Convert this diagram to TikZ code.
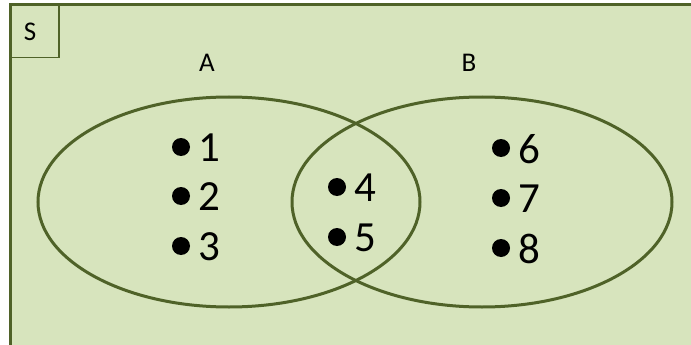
\documentclass[tikz,border=0pt]{standalone}
\usepackage{fontspec}
\setmainfont{Carlito}
\definecolor{setfill}{HTML}{D7E4BD}
\definecolor{olive}{HTML}{4F6228}
\begin{document}
\begin{tikzpicture}[x=1pt,y=-1pt,
  setline/.style={draw=olive,line width=3pt},
  dotmark/.style={circle,fill=black,inner sep=0pt,minimum size=18pt},
  num/.style={font=\fontsize{43}{46}\selectfont,inner sep=0pt,anchor=west},
  lbl/.style={font=\fontsize{27}{30}\selectfont,inner sep=0pt}]
\useasboundingbox (0,0) rectangle (691,345);
\fill[white] (0,0) rectangle (691,345);
\draw[setline,fill=setfill] (10,5) rectangle (700,360);
\node[draw=olive,line width=1.5pt,minimum width=48pt,minimum height=52pt,anchor=north west,inner sep=0pt] (sbox) at (10,5) {};
\node[lbl] (s) at (30,32) {S};
\node[lbl] (la) at (207,63) {A};
\node[lbl] (lb) at (469,63) {B};
\draw[setline] (229,202) ellipse [x radius=191, y radius=105];
\draw[setline] (482,202) ellipse [x radius=190, y radius=105];
\node[dotmark] (d1) at (181,147) {};
\node[dotmark] (d2) at (181,196) {};
\node[dotmark] (d3) at (181,246) {};
\node[dotmark] (d4) at (337,187) {};
\node[dotmark] (d5) at (337,237) {};
\node[dotmark] (d6) at (501,148) {};
\node[dotmark] (d7) at (501,198) {};
\node[dotmark] (d8) at (501,248) {};
\node[num] (n1) at (198,148) {1};
\node[num] (n2) at (198,197) {2};
\node[num] (n3) at (198,247) {3};
\node[num] (n4) at (354,188) {4};
\node[num] (n5) at (354,238) {5};
\node[num] (n6) at (518,149) {6};
\node[num] (n7) at (518,199) {7};
\node[num] (n8) at (518,249) {8};
\end{tikzpicture}
\end{document}
